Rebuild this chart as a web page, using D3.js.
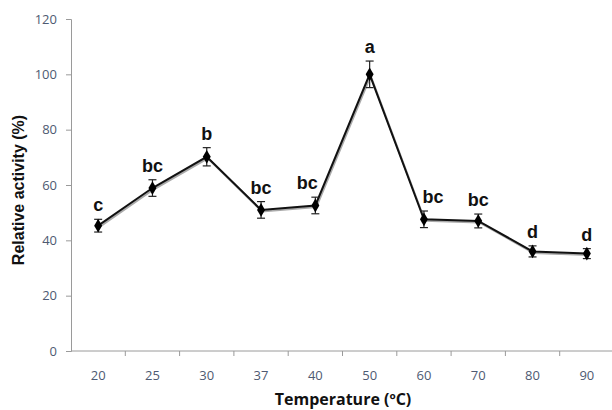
<!DOCTYPE html>
<html>
<head>
<meta charset="utf-8">
<script src="https://cdn.jsdelivr.net/npm/d3@7"></script>
<style>
  body { margin: 0; background: #fff; }
  svg { display: block; }
</style>
</head>
<body>
<div id="chart-area"></div>
<script>
// Chart data
var temps = ["20", "25", "30", "37", "40", "50", "60", "70", "80", "90"];
var activity = [45.3, 58.9, 70.2, 51, 52.6, 100, 47.6, 47, 36, 35.2];
var errors = [2.3, 3, 3.3, 3, 3, 4.8, 3, 2.5, 2, 1.8];
var groups = ["c", "bc", "b", "bc", "bc", "a", "bc", "bc", "d", "d"];
var yTicks = [0, 20, 40, 60, 80, 100, 120];

var margin = { left: 71, right: -2, top: 19, bottom: 59 };
var width = 612 - margin.left - margin.right,
    height = 410 - margin.top - margin.bottom;

var svg = d3.select("#chart-area")
    .append("svg")
        .attr("width", 612)
        .attr("height", 410);

var g = svg.append("g")
    .attr("transform", "translate(" + margin.left + "," + margin.top + ")");

var x = d3.scaleBand()
    .domain(temps)
    .range([0, width]);

var y = d3.scaleLinear()
    .domain([0, 120])
    .range([height, 0]);

var tickColor = "#4e5a72";

// Y axis
var yAxis = g.append("g")
    .call(d3.axisLeft(y).tickValues(yTicks).tickSize(5).tickPadding(9));
yAxis.select(".domain").attr("stroke", "#9a9a9a");
yAxis.selectAll(".tick line").attr("stroke", "#9a9a9a");
yAxis.selectAll(".tick text")
    .attr("fill", tickColor)
    .attr("font-family", "'Open Sans', sans-serif")
    .attr("font-size", "13px");

// X axis: ticks between categories
var xAxis = g.append("g")
    .attr("transform", "translate(0," + height + ")");
xAxis.append("line")
    .attr("x1", 0).attr("x2", width)
    .attr("stroke", "#9a9a9a");
xAxis.selectAll(".bound")
    .data(temps.slice(1))
    .enter().append("line")
        .attr("class", "bound")
        .attr("x1", function(d){ return x(d); })
        .attr("x2", function(d){ return x(d); })
        .attr("y1", 0).attr("y2", 5)
        .attr("stroke", "#9a9a9a");
xAxis.selectAll(".lab")
    .data(temps)
    .enter().append("text")
        .attr("class", "lab")
        .attr("x", function(d){ return x(d) + x.bandwidth() / 2; })
        .attr("y", 29)
        .attr("text-anchor", "middle")
        .attr("fill", tickColor)
        .attr("font-family", "'Open Sans', sans-serif")
        .attr("font-size", "13px")
        .text(function(d){ return d; });

// Labels
g.append("text")
    .attr("x", 343 - margin.left)
    .attr("y", height + 54)
    .attr("text-anchor", "middle")
    .attr("font-family", "'Open Sans', sans-serif")
    .attr("font-weight", "bold")
    .attr("font-size", "16px")
    .attr("fill", "#111")
    .text("Temperature (ºC)");

svg.append("text")
    .attr("transform", "translate(24,190) rotate(-90)")
    .attr("text-anchor", "middle")
    .attr("font-family", "'Liberation Sans', Arial, sans-serif")
    .attr("font-weight", "bold")
    .attr("font-size", "16px")
    .attr("fill", "#111")
    .text("Relative activity (%)");

var pts = temps.map(function(t, i){
    return { t: t, v: activity[i], e: errors[i], grp: groups[i] };
});
var cx = function(d){ return x(d.t) + x.bandwidth() / 2; };

// Line (with faint shadow)
var line = d3.line()
    .x(cx)
    .y(function(d){ return y(d.v); });

g.append("path")
    .datum(pts)
    .attr("fill", "none")
    .attr("stroke", "#aaa")
    .attr("stroke-width", 2)
    .attr("transform", "translate(1,1.5)")
    .attr("d", line);

g.append("path")
    .datum(pts)
    .attr("fill", "none")
    .attr("stroke", "#111")
    .attr("stroke-width", 2)
    .attr("d", line);

// Error bars
var eb = g.selectAll(".err")
    .data(pts)
    .enter().append("g")
        .attr("class", "err")
        .attr("stroke", "#222")
        .attr("stroke-width", 1.2);
eb.append("line")
    .attr("x1", cx).attr("x2", cx)
    .attr("y1", function(d){ return y(d.v + d.e); })
    .attr("y2", function(d){ return y(d.v - d.e); });
eb.append("line")
    .attr("x1", function(d){ return cx(d) - 4; })
    .attr("x2", function(d){ return cx(d) + 4; })
    .attr("y1", function(d){ return y(d.v + d.e); })
    .attr("y2", function(d){ return y(d.v + d.e); });
eb.append("line")
    .attr("x1", function(d){ return cx(d) - 4; })
    .attr("x2", function(d){ return cx(d) + 4; })
    .attr("y1", function(d){ return y(d.v - d.e); })
    .attr("y2", function(d){ return y(d.v - d.e); });

// Markers
g.selectAll(".pt")
    .data(pts)
    .enter().append("path")
        .attr("class", "pt")
        .attr("d", d3.symbol().type(d3.symbolDiamond).size(55))
        .attr("transform", function(d){ return "translate(" + cx(d) + "," + y(d.v) + ")"; })
        .attr("fill", "#000");

// Significance letters, nudged away from a steep neighbouring segment
function nudge(d, i){
    var prev = i > 0 ? pts[i - 1].v : d.v,
        next = i < pts.length - 1 ? pts[i + 1].v : d.v;
    if (next - d.v > 20) return -8;
    if (prev - d.v > 20) return 9;
    return 0;
}
g.selectAll(".grp")
    .data(pts)
    .enter().append("text")
        .attr("class", "grp")
        .attr("x", function(d, i){ return cx(d) + nudge(d, i); })
        .attr("y", function(d){ return y(d.v + d.e) - 8; })
        .attr("text-anchor", "middle")
        .attr("font-family", "'Liberation Sans', Arial, sans-serif")
        .attr("font-weight", "bold")
        .attr("font-size", "18px")
        .attr("fill", "#111")
        .text(function(d){ return d.grp; });
</script>
</body>
</html>
